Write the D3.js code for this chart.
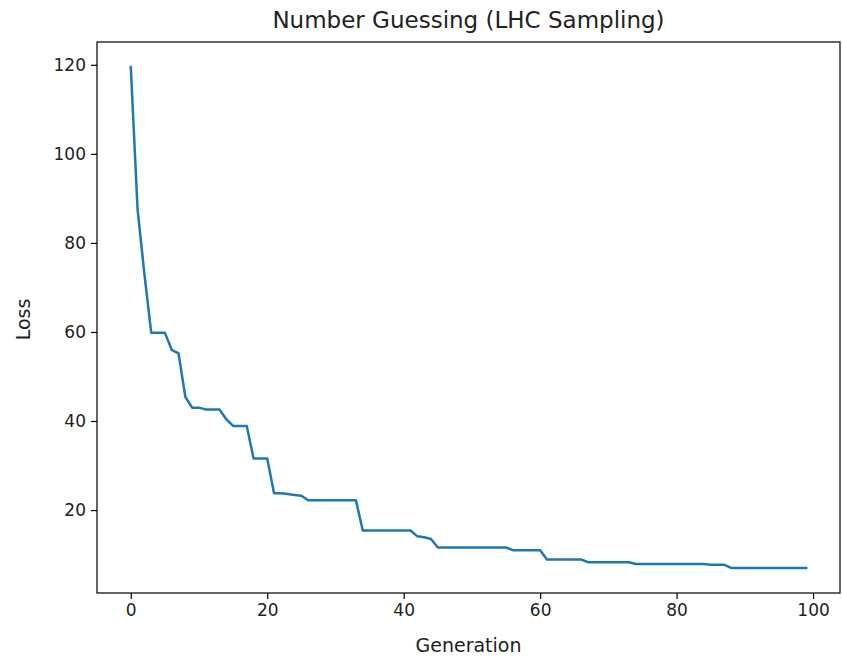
<!DOCTYPE html>
<html>
<head>
<meta charset="utf-8">
<script src="https://cdn.jsdelivr.net/npm/d3@7"></script>
<style>
  body { margin: 0; background: #fff; }
  svg { display: block; font-family: "DejaVu Sans", sans-serif; }
</style>
</head>
<body>
<svg id="chart" width="842" height="657"></svg>
<script>
const title = "Number Guessing (LHC Sampling)";
const xLabel = "Generation";
const yLabel = "Loss";
const xTicks = [0, 20, 40, 60, 80, 100];
const yTicks = [20, 40, 60, 80, 100, 120];
const generations = d3.range(0, 100);
const loss = [
  119.5, 87.5, 73.0, 59.8, 59.8, 59.8, 56.0, 55.2, 45.4, 43.0,
  43.0, 42.6, 42.6, 42.6, 40.4, 38.9, 38.9, 38.9, 31.6, 31.6,
  31.6, 23.8, 23.8, 23.6, 23.4, 23.2, 22.2, 22.2, 22.2, 22.2,
  22.2, 22.2, 22.2, 22.2, 15.4, 15.4, 15.4, 15.4, 15.4, 15.4,
  15.4, 15.4, 14.1, 13.9, 13.5, 11.6, 11.6, 11.6, 11.6, 11.6,
  11.6, 11.6, 11.6, 11.6, 11.6, 11.6, 11.0, 11.0, 11.0, 11.0,
  11.0, 8.9, 8.9, 8.9, 8.9, 8.9, 8.9, 8.3, 8.3, 8.3,
  8.3, 8.3, 8.3, 8.3, 7.9, 7.9, 7.9, 7.9, 7.9, 7.9,
  7.9, 7.9, 7.9, 7.9, 7.9, 7.7, 7.7, 7.7, 7.0, 7.0,
  7.0, 7.0, 7.0, 7.0, 7.0, 7.0, 7.0, 7.0, 7.0, 7.0
];

(function () {
const svg = d3.select("#chart");
const mLeft = 97, mRight = 840, mTop = 42, mBottom = 593;

const [xmin, xmax] = d3.extent(generations);
const xm = (xmax - xmin) * 0.05;
const [ymin, ymax] = d3.extent(loss);
const ym = (ymax - ymin) * 0.05;

const x = d3.scaleLinear().domain([xmin - xm, xmax + xm]).range([mLeft, mRight]);
const y = d3.scaleLinear().domain([ymin - ym, ymax + ym]).range([mBottom, mTop]);

// line
const line = d3.line().x((d, i) => x(generations[i])).y(d => y(d));
svg.append("path")
  .datum(loss)
  .attr("d", line)
  .attr("fill", "none")
  .attr("stroke", "#1f77b4")
  .attr("stroke-width", 2.5)
  .attr("stroke-linejoin", "round")
  .attr("stroke-linecap", "square");

// axes
const xAxis = d3.axisBottom(x).tickValues(xTicks).tickSize(6).tickPadding(5).tickFormat(d3.format("d"));
const yAxis = d3.axisLeft(y).tickValues(yTicks).tickSize(6).tickPadding(5).tickFormat(d3.format("d"));

const gx = svg.append("g").attr("transform", `translate(0,${mBottom})`).call(xAxis);
const gy = svg.append("g").attr("transform", `translate(${mLeft},0)`).call(yAxis);
[gx, gy].forEach(g => {
  g.select(".domain").remove();
  g.selectAll(".tick line").attr("stroke", "#000").attr("stroke-width", 1.2);
  g.selectAll(".tick text").attr("fill", "#222").style("font-size", "17px").style("font-family", "DejaVu Sans, sans-serif");
});

// frame
svg.append("rect")
  .attr("x", mLeft).attr("y", mTop)
  .attr("width", mRight - mLeft).attr("height", mBottom - mTop)
  .attr("fill", "none").attr("stroke", "#000").attr("stroke-width", 1.2);

// title & labels
svg.append("text")
  .attr("x", (mLeft + mRight) / 2).attr("y", 28)
  .attr("text-anchor", "middle")
  .style("font-size", "23px").attr("fill", "#222")
  .text(title);

svg.append("text")
  .attr("x", (mLeft + mRight) / 2).attr("y", 652)
  .attr("text-anchor", "middle")
  .style("font-size", "19px").attr("fill", "#222")
  .text(xLabel);

svg.append("text")
  .attr("transform", `translate(30,${(mTop + mBottom) / 2 + 2}) rotate(-90)`)
  .attr("text-anchor", "middle")
  .style("font-size", "19px").attr("fill", "#222")
  .text(yLabel);
})();
</script>
</body>
</html>
